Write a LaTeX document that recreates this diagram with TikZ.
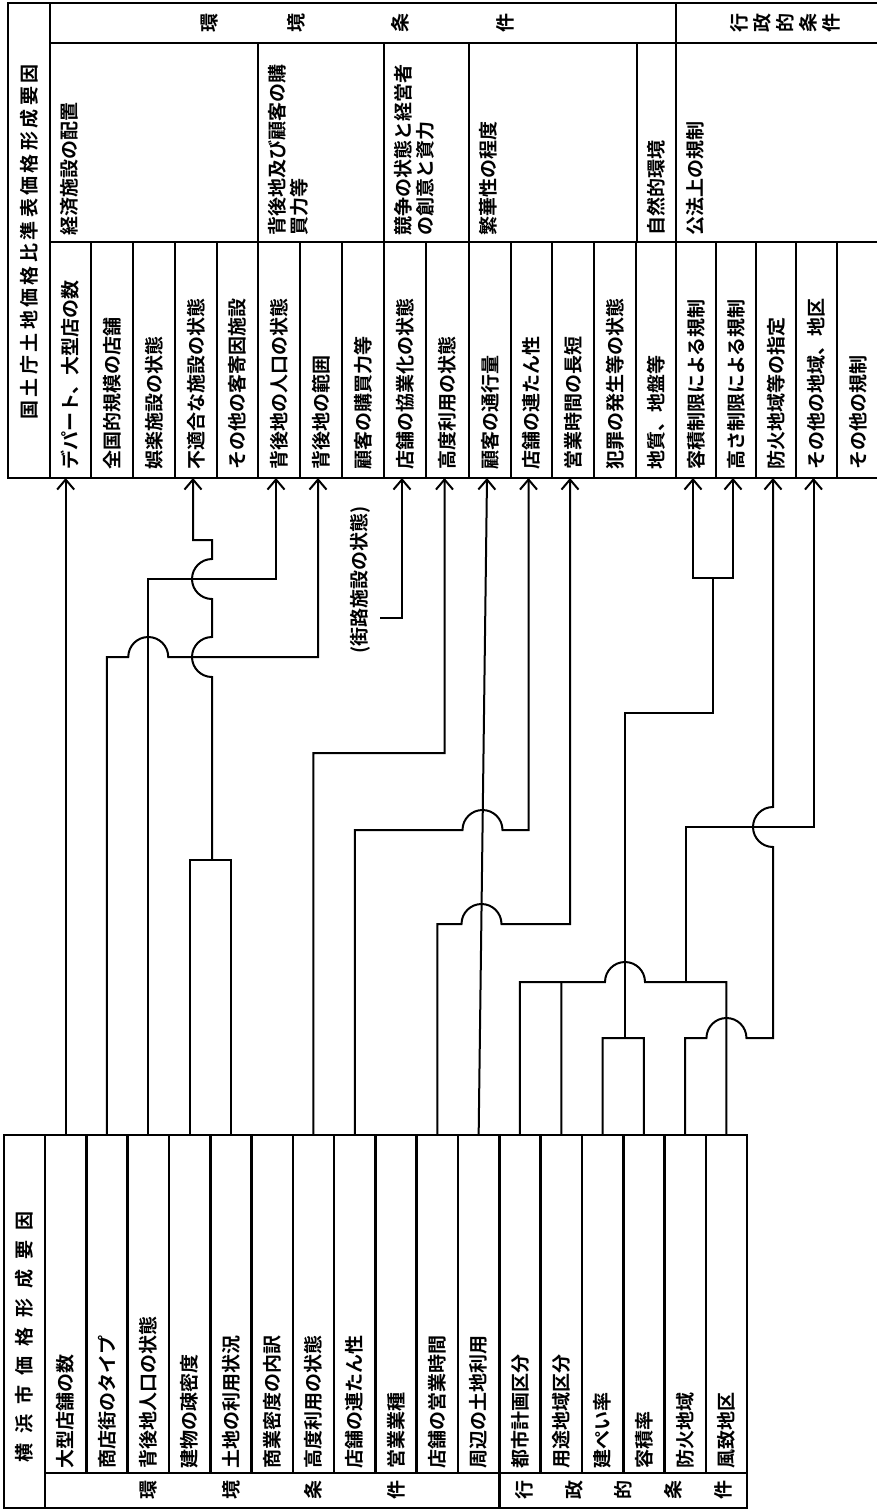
\documentclass[tikz,border=0pt]{standalone}
\usepackage{fontspec}
\setmainfont{Noto Sans CJK JP}[BoldFont={Noto Sans CJK JP Bold}]
\newfontfamily\titlefont{Noto Sans CJK JP Bold}[LetterSpace=18]
\usetikzlibrary{arrows.meta}
\begin{document}
\begin{tikzpicture}[x=1pt,y=-1pt,
  tbl/.style={draw, line width=2.6pt, inner sep=0pt, outer sep=0pt, anchor=north west},
  conn/.style={line width=2pt},
  arr/.style={-{Straight Barb[length=10pt,width=17pt]}},
  txt/.style={font=\bfseries\fontsize{19}{22}\selectfont, inner sep=0pt, rotate=90}]
\fill[white] (0,0) rectangle (876,1510);
\useasboundingbox (0,0) rectangle (876,1510);

% ---------------- right table ----------------
\node[tbl, minimum width=42pt, minimum height=475pt] (rtc) at (8,3) {};
\node[txt, font=\titlefont\fontsize{19}{22}\selectfont] (rtitle) at (29,242) {国土庁土地価格比準表価格形成要因};
\node[tbl, minimum width=626pt, minimum height=40pt] (h1) at (50,3) {};
\node[tbl, minimum width=204pt, minimum height=40pt] (h2) at (676,3) {};
\foreach \c/\xx in {環/210,境/296,条/400,件/505}
  \node[txt] (rh\c) at (\xx,23) {\c};
\node[txt, align=center, font=\bfseries\fontsize{19}{23}\selectfont] (rhadm) at (785,23) {行\\政\\的\\条\\件};

\foreach \i/\a/\b/\lab in {1/50/258/経済施設の配置,2/258/384/背後地及び顧客の購\\買力等,3/384/469/競争の状態と経営者\\の創意と資力,4/469/637/繁華性の程度,5/637/676/自然的環境,6/676/880/公法上の規制} {
  \pgfmathsetmacro\w{\b-\a}
  \node[tbl, minimum width=\w pt, minimum height=199pt] (m\i) at (\a,43) {};
  \node[txt, anchor=north west, align=left] (mt\i) at (\a+10,236) {\lab};
}

\foreach \i/\a/\b/\lab in {1/50/91/デパート、大型店の数,2/91/133/全国的規模の店舗,3/133/175/娯楽施設の状態,4/175/217/不適合な施設の状態,5/217/258/その他の客寄因施設,6/258/300/背後地の人口の状態,7/300/342/背後地の範囲,8/342/384/顧客の購買力等,9/384/426/店舗の協業化の状態,10/426/469/高度利用の状態,11/469/511/顧客の通行量,12/511/552/店舗の連たん性,13/552/594/営業時間の長短,14/594/636/犯罪の発生等の状態,15/636/676/地質、地盤等,16/676/716/容積制限による規制,17/716/756/高さ制限による規制,18/756/796/防火地域等の指定,19/796/837/その他の地域、地区,20/837/880/その他の規制} {
  \pgfmathsetmacro\w{\b-\a}
  \node[tbl, minimum width=\w pt, minimum height=236pt] (r\i) at (\a,242) {};
  \node[txt, anchor=west] (rt\i) at ({(\a+\b)/2},470) {\lab};
}

% ---------------- left table ----------------
\node[tbl, minimum width=41pt, minimum height=373pt] (ltc) at (4,1135) {};
\node[txt, anchor=west] (ltitle) at (24.5,1463) {横\hspace{10pt}浜\hspace{10pt}市\hspace{10pt}価\hspace{10pt}格\hspace{10pt}形\hspace{10pt}成\hspace{10pt}要\hspace{10pt}因};
\foreach \i/\lab in {1/大型店舗の数,2/商店街のタイプ,3/背後地人口の状態,4/建物の疎密度,5/土地の利用状況,6/商業密度の内訳,7/高度利用の状態,8/店舗の連たん性,9/営業業種,10/店舗の営業時間,11/周辺の土地利用,12/都市計画区分,13/用途地域区分,14/建ぺい率,15/容積率,16/防火地域,17/風致地区} {
  \pgfmathsetmacro\xx{45+(\i-1)*41.3}
  \node[tbl, minimum width=41.3pt, minimum height=338pt] (l\i) at (\xx,1135) {};
  \node[txt, anchor=west] (lt\i) at (\xx+20.65,1469) {\lab};
}
\node[tbl, minimum width=454.3pt, minimum height=35pt] (lenv) at (45,1473) {};
\node[tbl, minimum width=247.8pt, minimum height=35pt] (ladm) at (499.3,1473) {};
\foreach \c/\xx in {環/148.25,境/230.85,条/313.45,件/396.05,行/524,政/574,的/623,条/673,件/723}
  \node[txt] at (\xx,1490) {\c};

% ---------------- free label ----------------
\node[txt] (gairo) at (360,580) {(街路施設の状態)};
\coordinate (gs) at (380,618);

% ---------------- connectors ----------------
\draw[conn,arr] (l1.north) -- (l1.north |- r1.south);
\draw[conn,arr] (l2.north) -- (106.95,657) -- (128.25,657) arc[start angle=180,end angle=360,radius=20] -- (318,657) -- ([xshift=-3pt]r7.south);
\draw[conn,arr] (l3.north) -- (148.25,579) -- (276,579) -- ([xshift=-3pt]r6.south);
\draw[conn] (l4.north) -- (189.55,860) -- (230.85,860) -- (l5.north);
\draw[conn,arr] (212,860) -- (212,677) arc[start angle=90,end angle=270,radius=20] -- (212,599) arc[start angle=90,end angle=270,radius=20] -- (212,540) -- (193,540) -- ([xshift=-3pt]r4.south);
\draw[conn,arr] (gs) -- (402,618) -- ([xshift=-3pt]r9.south);
\draw[conn,arr] (l7.north) -- (313.45,753) -- (444.5,753) -- ([xshift=-3pt]r10.south);
\draw[conn,arr] (l11.north) -- ([xshift=-3pt]r11.south);
\draw[conn,arr] (l8.north) -- (354.75,830) -- (462.5,830) arc[start angle=180,end angle=360,radius=20] -- (528.5,830) -- ([xshift=-3pt]r12.south);
\draw[conn,arr] (l10.north) -- (437.35,924) -- (461.5,924) arc[start angle=180,end angle=360,radius=20] -- (570,924) -- ([xshift=-3pt]r13.south);
\draw[conn] (l12.north) -- (519.95,982) -- (605,982) arc[start angle=180,end angle=360,radius=20] -- (726.45,982) -- (l17.north);
\draw[conn] (l13.north) -- (561.25,982);
\draw[conn,arr] (686,982) -- (686,827) -- (813.5,827) -- ([xshift=-3pt]r19.south);
\draw[conn] (l14.north) -- (602.55,1038) -- (643.85,1038) -- (l15.north);
\draw[conn] (625,1038) -- (625,713) -- (713,713) -- (713,578);
\draw[conn,{Straight Barb[length=10pt,width=17pt]}-{Straight Barb[length=10pt,width=17pt]}] ([xshift=-3pt]r16.south) -- (693,578) -- (733,578) -- ([xshift=-3pt]r17.south);
\draw[conn,arr] (l16.north) -- (685.15,1038) -- (706.45,1038) arc[start angle=180,end angle=360,radius=20] -- (773,1038) -- (773,847) arc[start angle=90,end angle=270,radius=20] -- ([xshift=-3pt]r18.south);
\end{tikzpicture}
\end{document}
